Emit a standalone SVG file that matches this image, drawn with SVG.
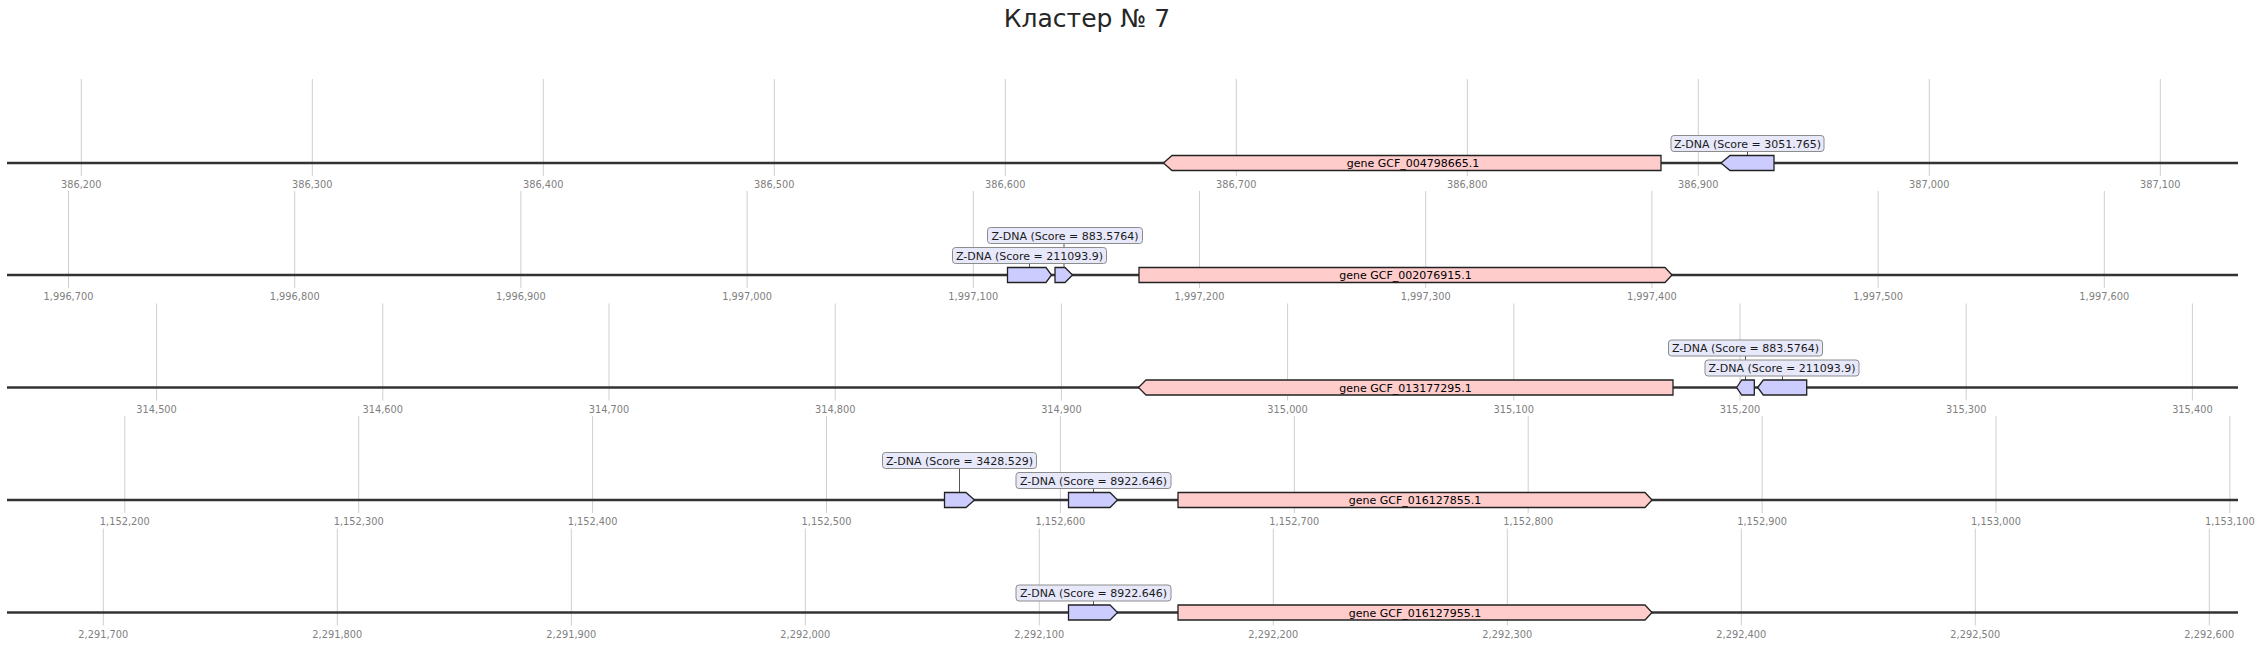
<svg xmlns="http://www.w3.org/2000/svg" width="2262" height="647" viewBox="0 0 2262 647">
<style>
text{font-family:"DejaVu Sans","Liberation Sans",sans-serif}
.title{font-size:25px;fill:#262626;text-anchor:middle}
.grid{stroke:#cfcfcf;stroke-width:1}
.axis{stroke:#333;stroke-width:2.3}
.tick{font-size:9.8px;fill:#808080;text-anchor:middle}
.gene{fill:#ffcccc;stroke:#222;stroke-width:1.3;stroke-linejoin:miter}
.zdna{fill:#ccccff;stroke:#222;stroke-width:1.3;stroke-linejoin:miter}
.glabel{font-size:11px;fill:#000;text-anchor:middle}
.box{fill:#e8e8fb;stroke:#8c8c8c;stroke-width:1}
.blabel{font-size:11px;fill:#1a1a1a;text-anchor:middle}
.conn{stroke:#555;stroke-width:1}
</style>
<rect width="2262" height="647" fill="#fff"/>
<text class="title" x="1087" y="27">Кластер № 7</text>

<g id="grid">
<g id="grid-row1">
<line class="grid" x1="81.3" y1="79" x2="81.3" y2="176"/><line class="grid" x1="312.3" y1="79" x2="312.3" y2="176"/><line class="grid" x1="543.3" y1="79" x2="543.3" y2="176"/><line class="grid" x1="774.3" y1="79" x2="774.3" y2="176"/><line class="grid" x1="1005.3" y1="79" x2="1005.3" y2="176"/><line class="grid" x1="1236.3" y1="79" x2="1236.3" y2="176"/><line class="grid" x1="1467.3" y1="79" x2="1467.3" y2="176"/><line class="grid" x1="1698.3" y1="79" x2="1698.3" y2="176"/><line class="grid" x1="1929.3" y1="79" x2="1929.3" y2="176"/><line class="grid" x1="2160.3" y1="79" x2="2160.3" y2="176"/>
<text class="tick" x="81.3" y="188">386,200</text><text class="tick" x="312.3" y="188">386,300</text><text class="tick" x="543.3" y="188">386,400</text><text class="tick" x="774.3" y="188">386,500</text><text class="tick" x="1005.3" y="188">386,600</text><text class="tick" x="1236.3" y="188">386,700</text><text class="tick" x="1467.3" y="188">386,800</text><text class="tick" x="1698.3" y="188">386,900</text><text class="tick" x="1929.3" y="188">387,000</text><text class="tick" x="2160.3" y="188">387,100</text>
<line class="axis" x1="7" y1="163" x2="2238" y2="163"/>
</g>
<g id="grid-row2">
<line class="grid" x1="68.5" y1="191" x2="68.5" y2="288"/><line class="grid" x1="294.7" y1="191" x2="294.7" y2="288"/><line class="grid" x1="520.9" y1="191" x2="520.9" y2="288"/><line class="grid" x1="747.1" y1="191" x2="747.1" y2="288"/><line class="grid" x1="973.3" y1="191" x2="973.3" y2="288"/><line class="grid" x1="1199.5" y1="191" x2="1199.5" y2="288"/><line class="grid" x1="1425.7" y1="191" x2="1425.7" y2="288"/><line class="grid" x1="1651.9" y1="191" x2="1651.9" y2="288"/><line class="grid" x1="1878.1" y1="191" x2="1878.1" y2="288"/><line class="grid" x1="2104.3" y1="191" x2="2104.3" y2="288"/>
<text class="tick" x="68.5" y="300">1,996,700</text><text class="tick" x="294.7" y="300">1,996,800</text><text class="tick" x="520.9" y="300">1,996,900</text><text class="tick" x="747.1" y="300">1,997,000</text><text class="tick" x="973.3" y="300">1,997,100</text><text class="tick" x="1199.5" y="300">1,997,200</text><text class="tick" x="1425.7" y="300">1,997,300</text><text class="tick" x="1651.9" y="300">1,997,400</text><text class="tick" x="1878.1" y="300">1,997,500</text><text class="tick" x="2104.3" y="300">1,997,600</text>
<line class="axis" x1="7" y1="275" x2="2238" y2="275"/>
</g>
<g id="grid-row3">
<line class="grid" x1="156.6" y1="303.5" x2="156.6" y2="400.5"/><line class="grid" x1="382.8" y1="303.5" x2="382.8" y2="400.5"/><line class="grid" x1="609" y1="303.5" x2="609" y2="400.5"/><line class="grid" x1="835.2" y1="303.5" x2="835.2" y2="400.5"/><line class="grid" x1="1061.4" y1="303.5" x2="1061.4" y2="400.5"/><line class="grid" x1="1287.6" y1="303.5" x2="1287.6" y2="400.5"/><line class="grid" x1="1513.8" y1="303.5" x2="1513.8" y2="400.5"/><line class="grid" x1="1740" y1="303.5" x2="1740" y2="400.5"/><line class="grid" x1="1966.2" y1="303.5" x2="1966.2" y2="400.5"/><line class="grid" x1="2192.4" y1="303.5" x2="2192.4" y2="400.5"/>
<text class="tick" x="156.6" y="412.5">314,500</text><text class="tick" x="382.8" y="412.5">314,600</text><text class="tick" x="609" y="412.5">314,700</text><text class="tick" x="835.2" y="412.5">314,800</text><text class="tick" x="1061.4" y="412.5">314,900</text><text class="tick" x="1287.6" y="412.5">315,000</text><text class="tick" x="1513.8" y="412.5">315,100</text><text class="tick" x="1740" y="412.5">315,200</text><text class="tick" x="1966.2" y="412.5">315,300</text><text class="tick" x="2192.4" y="412.5">315,400</text>
<line class="axis" x1="7" y1="387.5" x2="2238" y2="387.5"/>
</g>
<g id="grid-row4">
<line class="grid" x1="124.8" y1="416" x2="124.8" y2="513"/><line class="grid" x1="358.7" y1="416" x2="358.7" y2="513"/><line class="grid" x1="592.6" y1="416" x2="592.6" y2="513"/><line class="grid" x1="826.5" y1="416" x2="826.5" y2="513"/><line class="grid" x1="1060.4" y1="416" x2="1060.4" y2="513"/><line class="grid" x1="1294.3" y1="416" x2="1294.3" y2="513"/><line class="grid" x1="1528.2" y1="416" x2="1528.2" y2="513"/><line class="grid" x1="1762.1" y1="416" x2="1762.1" y2="513"/><line class="grid" x1="1996" y1="416" x2="1996" y2="513"/><line class="grid" x1="2229.9" y1="416" x2="2229.9" y2="513"/>
<text class="tick" x="124.8" y="525">1,152,200</text><text class="tick" x="358.7" y="525">1,152,300</text><text class="tick" x="592.6" y="525">1,152,400</text><text class="tick" x="826.5" y="525">1,152,500</text><text class="tick" x="1060.4" y="525">1,152,600</text><text class="tick" x="1294.3" y="525">1,152,700</text><text class="tick" x="1528.2" y="525">1,152,800</text><text class="tick" x="1762.1" y="525">1,152,900</text><text class="tick" x="1996" y="525">1,153,000</text><text class="tick" x="2229.9" y="525">1,153,100</text>
<line class="axis" x1="7" y1="500" x2="2238" y2="500"/>
</g>
<g id="grid-row5">
<line class="grid" x1="103.3" y1="528.5" x2="103.3" y2="625.5"/><line class="grid" x1="337.3" y1="528.5" x2="337.3" y2="625.5"/><line class="grid" x1="571.3" y1="528.5" x2="571.3" y2="625.5"/><line class="grid" x1="805.3" y1="528.5" x2="805.3" y2="625.5"/><line class="grid" x1="1039.3" y1="528.5" x2="1039.3" y2="625.5"/><line class="grid" x1="1273.3" y1="528.5" x2="1273.3" y2="625.5"/><line class="grid" x1="1507.3" y1="528.5" x2="1507.3" y2="625.5"/><line class="grid" x1="1741.3" y1="528.5" x2="1741.3" y2="625.5"/><line class="grid" x1="1975.3" y1="528.5" x2="1975.3" y2="625.5"/><line class="grid" x1="2209.3" y1="528.5" x2="2209.3" y2="625.5"/>
<text class="tick" x="103.3" y="637.5">2,291,700</text><text class="tick" x="337.3" y="637.5">2,291,800</text><text class="tick" x="571.3" y="637.5">2,291,900</text><text class="tick" x="805.3" y="637.5">2,292,000</text><text class="tick" x="1039.3" y="637.5">2,292,100</text><text class="tick" x="1273.3" y="637.5">2,292,200</text><text class="tick" x="1507.3" y="637.5">2,292,300</text><text class="tick" x="1741.3" y="637.5">2,292,400</text><text class="tick" x="1975.3" y="637.5">2,292,500</text><text class="tick" x="2209.3" y="637.5">2,292,600</text>
<line class="axis" x1="7" y1="612.5" x2="2238" y2="612.5"/>
</g>
</g>

<g id="connectors">
<line class="conn" x1="1747.5" y1="151.5" x2="1747.5" y2="155.5"/>
<line class="conn" x1="1029.5" y1="263.5" x2="1029.5" y2="267.5"/>
<line class="conn" x1="1064" y1="243.5" x2="1064" y2="267.5"/>
<line class="conn" x1="1745.5" y1="356" x2="1745.5" y2="380"/>
<line class="conn" x1="1782.5" y1="376" x2="1782.5" y2="380"/>
<line class="conn" x1="959.5" y1="468.5" x2="959.5" y2="492.5"/>
<line class="conn" x1="1093.5" y1="488.5" x2="1093.5" y2="492.5"/>
<line class="conn" x1="1093.5" y1="601" x2="1093.5" y2="605"/>
</g>

<g id="row1-gene">
<polygon class="gene" points="1163.5,163 1172,155.5 1661,155.5 1661,170.5 1172,170.5"/>
<text class="glabel" x="1413" y="167">gene GCF_004798665.1</text>
</g>
<g id="row1-zdna">
<polygon class="zdna" points="1721,163 1730,155.5 1774,155.5 1774,170.5 1730,170.5"/>
<rect class="box" x="1671" y="135.5" width="153" height="16" rx="3"/>
<text class="blabel" x="1747.5" y="147.5">Z-DNA (Score = 3051.765)</text>
</g>

<g id="row2-gene">
<polygon class="gene" points="1139,267.5 1665,267.5 1672,275 1665,282.5 1139,282.5"/>
<text class="glabel" x="1405.5" y="279">gene GCF_002076915.1</text>
</g>
<g id="row2-zdna-883">
<rect class="box" x="987.5" y="227.5" width="155" height="16" rx="3"/>
<text class="blabel" x="1065" y="239.5">Z-DNA (Score = 883.5764)</text>
<polygon class="zdna" points="1055,267.5 1065,267.5 1072.5,275 1065,282.5 1055,282.5"/>
</g>
<g id="row2-zdna-211093">
<rect class="box" x="952.5" y="247.5" width="154" height="16" rx="3"/>
<text class="blabel" x="1029.5" y="259.5">Z-DNA (Score = 211093.9)</text>
<polygon class="zdna" points="1007.5,267.5 1046,267.5 1051.5,275 1046,282.5 1007.5,282.5"/>
</g>

<g id="row3-gene">
<polygon class="gene" points="1138.5,387.5 1146,380 1673,380 1673,395 1146,395"/>
<text class="glabel" x="1405.5" y="391.5">gene GCF_013177295.1</text>
</g>
<g id="row3-zdna-883">
<rect class="box" x="1668.5" y="340" width="154" height="16" rx="3"/>
<text class="blabel" x="1745.5" y="352">Z-DNA (Score = 883.5764)</text>
<polygon class="zdna" points="1736.7,387.5 1741.7,380 1754.3,380 1754.3,395 1741.7,395"/>
</g>
<g id="row3-zdna-211093">
<rect class="box" x="1705" y="360" width="154" height="16" rx="3"/>
<text class="blabel" x="1782" y="372">Z-DNA (Score = 211093.9)</text>
<polygon class="zdna" points="1757.7,387.5 1763.3,380 1806.7,380 1806.7,395 1763.3,395"/>
</g>

<g id="row4-zdna-3428">
<rect class="box" x="882.5" y="452.5" width="154" height="16" rx="3"/>
<text class="blabel" x="959.5" y="464.5">Z-DNA (Score = 3428.529)</text>
<polygon class="zdna" points="944.5,492.5 966,492.5 974.5,500 966,507.5 944.5,507.5"/>
</g>
<g id="row4-zdna-8922">
<rect class="box" x="1016" y="472.5" width="155" height="16" rx="3"/>
<text class="blabel" x="1093.5" y="484.5">Z-DNA (Score = 8922.646)</text>
<polygon class="zdna" points="1068.5,492.5 1110,492.5 1117.5,500 1110,507.5 1068.5,507.5"/>
</g>
<g id="row4-gene">
<polygon class="gene" points="1178,492.5 1645,492.5 1652,500 1645,507.5 1178,507.5"/>
<text class="glabel" x="1415" y="504">gene GCF_016127855.1</text>
</g>

<g id="row5-zdna-8922">
<rect class="box" x="1016" y="585" width="155" height="16" rx="3"/>
<text class="blabel" x="1093.5" y="597">Z-DNA (Score = 8922.646)</text>
<polygon class="zdna" points="1068.5,605 1110,605 1117.5,612.5 1110,620 1068.5,620"/>
</g>
<g id="row5-gene">
<polygon class="gene" points="1178,605 1645,605 1652,612.5 1645,620 1178,620"/>
<text class="glabel" x="1415" y="616.5">gene GCF_016127955.1</text>
</g>
</svg>
